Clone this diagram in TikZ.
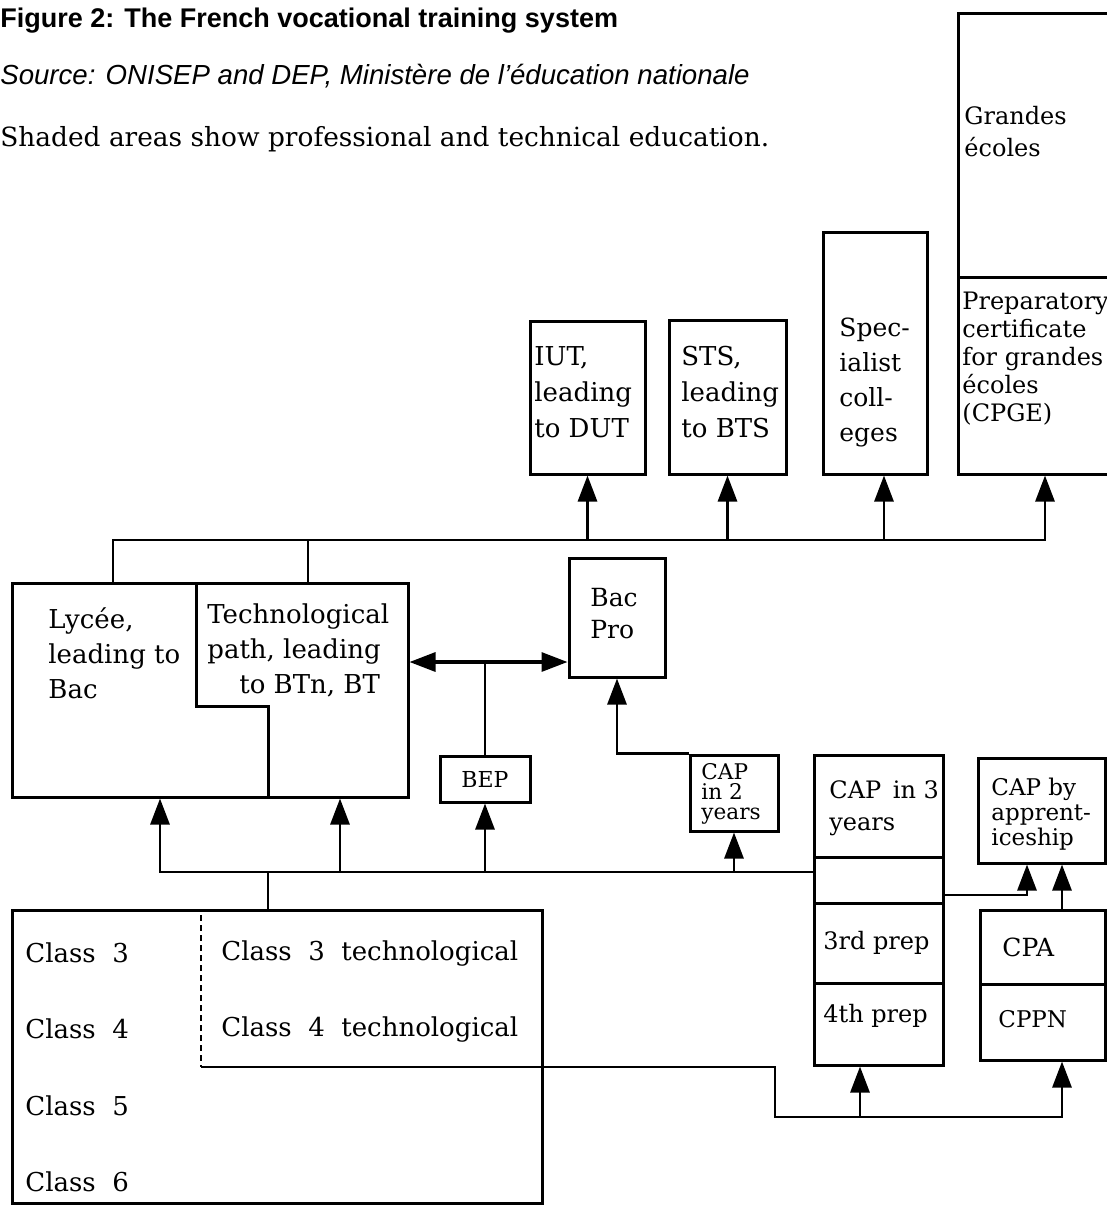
\documentclass[tikz,border=0pt]{standalone}
\usepackage{fontspec}
\setmainfont{DejaVu Serif}
\newfontfamily\headfont{Liberation Sans}
\usetikzlibrary{arrows.meta,fit}
\begin{document}
\begin{tikzpicture}[x=0.5pt,y=-0.5pt]
\tikzstyle{box} = [draw,line width=1.5pt,inner sep=0pt]
\tikzstyle{txt} = [inner sep=0pt,align=left,anchor=north west]
\tikzstyle{lab} = [inner sep=0pt,anchor=west,font=\fontsize{13}{15}\selectfont]
\tikzstyle{conn} = [line width=1.4pt]
\tikzstyle{arr} = [line width=1.4pt,arrows={-Triangle[length=13pt,width=9.5pt]}]
\tikzstyle{divider} = [line width=1pt]
  \useasboundingbox (0,0) rectangle (1107,1206);
  %heading
  \node[anchor=base west,inner sep=0pt,font=\headfont\bfseries\fontsize{13.5}{15}\selectfont] (title) at (0,27) {Figure 2: The French vocational training system};
  \node[anchor=base west,inner sep=0pt,font=\headfont\itshape\fontsize{13.8}{15}\selectfont] (source) at (0,84) {Source: ONISEP and DEP, Ministère de l’éducation nationale};
  \node[anchor=base west,inner sep=0pt,font=\fontsize{13.2}{15}\selectfont] (shaded) at (0,146) {Shaded areas show professional and technical education.};
  %higher education
  \node[box,fit={(958,13) (1132,277)}] (grandes) {};
  \node[box,fit={(958,277) (1132,474)}] (cpge) {};
  \node[box,fit={(823,232) (927,474)}] (spec) {};
  \node[box,fit={(669,320) (786,474)}] (sts) {};
  \node[box,fit={(530,321) (645,474)}] (iut) {};
  \node[txt,font=\fontsize{12}{16}\selectfont] (t grandes) at (964,106) {Grandes\\écoles};
  \node[txt,font=\fontsize{12}{14}\selectfont] (t cpge) at (962,292) {Preparatory\\certificate\\for grandes\\écoles\\(CPGE)};
  \node[txt,font=\fontsize{12.5}{17.5}\selectfont] (t spec) at (839,318) {Spec-\\ialist\\coll-\\eges};
  \node[txt,font=\fontsize{13}{18}\selectfont] (t sts) at (681,346) {STS,\\leading\\to BTS};
  \node[txt,font=\fontsize{13}{18}\selectfont] (t iut) at (534,346) {IUT,\\leading\\to DUT};
  %lycee
  \node[box,fit={(12,583) (408,797)}] (lycee) {};
  \draw[line width=1.5pt] (196,583) -- (196,706) -- (268,706) -- (268,797);
  \node[txt,font=\fontsize{13}{17.5}\selectfont] (t lycee) at (48,607) {Lycée,\\leading to\\Bac};
  \node[txt,font=\fontsize{13}{17.5}\selectfont] (t tech) at (207,603) {Technological\\path, leading\\\hspace*{16pt}to BTn, BT};
  \node[box,fit={(569,558) (665,677)}] (bacpro) {};
  \node[txt,font=\fontsize{12.5}{16}\selectfont] (t bacpro) at (590,588) {Bac\\Pro};
  \node[box,fit={(440,756) (530,802)}] (bep) {};
  \node[inner sep=0pt,font=\fontsize{11}{13}\selectfont] (t bep) at (bep) {BEP};
  \node[box,fit={(690,755) (778,831)}] (cap2) {};
  \node[txt,font=\fontsize{10.8}{10}\selectfont] (t cap2) at (701,763) {CAP\\in 2\\years};
  %cap column
  \node[box,fit={(814,755) (943,857)}] (cap3) {};
  \node[box,fit={(814,857) (943,903)}] (cap3gap) {};
  \node[box,fit={(814,903) (943,983)}] (prep3) {};
  \node[box,fit={(814,983) (943,1065)}] (prep4) {};
  \node[txt,font=\fontsize{12}{16}\selectfont] (t cap3) at (829,780) {CAP\ \,in 3\\years};
  \node[lab,font=\fontsize{12}{14}\selectfont] (t prep3) at (823,943) {3rd prep};
  \node[lab,font=\fontsize{12}{14}\selectfont] (t prep4) at (823,1016) {4th prep};
  \node[box,fit={(978,758) (1105,863)}] (capby) {};
  \node[txt,font=\fontsize{11.5}{12.5}\selectfont] (t capby) at (991,778) {CAP by\\apprent-\\iceship};
  \node[box,fit={(980,910) (1105,984)}] (cpa) {};
  \node[box,fit={(980,984) (1105,1060)}] (cppn) {};
  \node[lab,font=\fontsize{12.5}{14}\selectfont] (t cpa) at (1002,947) {CPA};
  \node[lab,font=\fontsize{11.5}{14}\selectfont] (t cppn) at (998,1019) {CPPN};
  %college
  \node[box,fit={(12,910) (542,1203)}] (classes) {};
  \draw[line width=0.6pt,densely dashed] (201,915) -- (201,1067);
  \draw[divider] (201,1067) -- (542,1067);
  \node[lab] (t c3) at (25,953) {Class\ \ 3};
  \node[lab] (t c4) at (25,1029) {Class\ \ 4};
  \node[lab] (t c5) at (25,1106) {Class\ \ 5};
  \node[lab] (t c6) at (25,1182) {Class\ \ 6};
  \node[lab] (t c3t) at (221,953) {Class\ \ 3\ \ technological};
  \node[lab] (t c4t) at (221,1029) {Class\ \ 4\ \ technological};
  %buses and columns
  \coordinate (topbus) at (0,540);
  \coordinate (midbus) at (0,662);
  \coordinate (lowbus) at (0,872);
  \coordinate (apbus) at (0,895);
  \coordinate (techline) at (0,1067);
  \coordinate (basebus) at (0,1117);
  \coordinate (colLy) at (113,0);
  \coordinate (colTp) at (308,0);
  \coordinate (colSpec) at (884,0);
  \coordinate (colLyB) at (160,0);
  \coordinate (colTpB) at (340,0);
  \coordinate (colCl) at (268,0);
  \coordinate (colAp) at (1027,0);
  \coordinate (colCp) at (1062,0);
  \coordinate (colKnee) at (775,0);
  \coordinate (colPrep) at (860,0);
  %upper arrows
  \draw[arr] (lycee.north -| colLy) |- (topbus -| cpge.south) -- (cpge.south);
  \draw[conn] (lycee.north -| colTp) -- (topbus -| colTp);
  \draw[arr] (topbus -| iut.south) -- (iut.south);
  \draw[arr] (topbus -| sts.south) -- (sts.south);
  \draw[arr] (topbus -| colSpec) -- (spec.south -| colSpec);
  %middle arrows
  \draw[line width=1.6pt,arrows={Triangle[length=13pt,width=9.5pt]-Triangle[length=13pt,width=9.5pt]}] (lycee.east |- midbus) -- (bacpro.west |- midbus);
  \draw[conn] (bep.north) -- (bep.north |- midbus);
  \draw[arr] (cap2.north west) -| (bacpro.south);
  %lower arrows
  \draw[arr] (cap3gap.west |- lowbus) -| (lycee.south -| colLyB);
  \draw[arr] (lowbus -| colTpB) -- (lycee.south -| colTpB);
  \draw[arr] (lowbus -| bep.south) -- (bep.south);
  \draw[arr] (lowbus -| cap2.south) -- (cap2.south);
  \draw[conn] (classes.north -| colCl) -- (lowbus -| colCl);
  \draw[arr] (cap3gap.east |- apbus) -| (capby.south -| colAp);
  \draw[arr] (cpa.north -| colCp) -- (capby.south -| colCp);
  \draw[arr] (classes.east |- techline) -| (colKnee |- basebus) -| (cppn.south -| colCp);
  \draw[arr] (basebus -| colPrep) -- (prep4.south -| colPrep);
\end{tikzpicture}
\end{document}
